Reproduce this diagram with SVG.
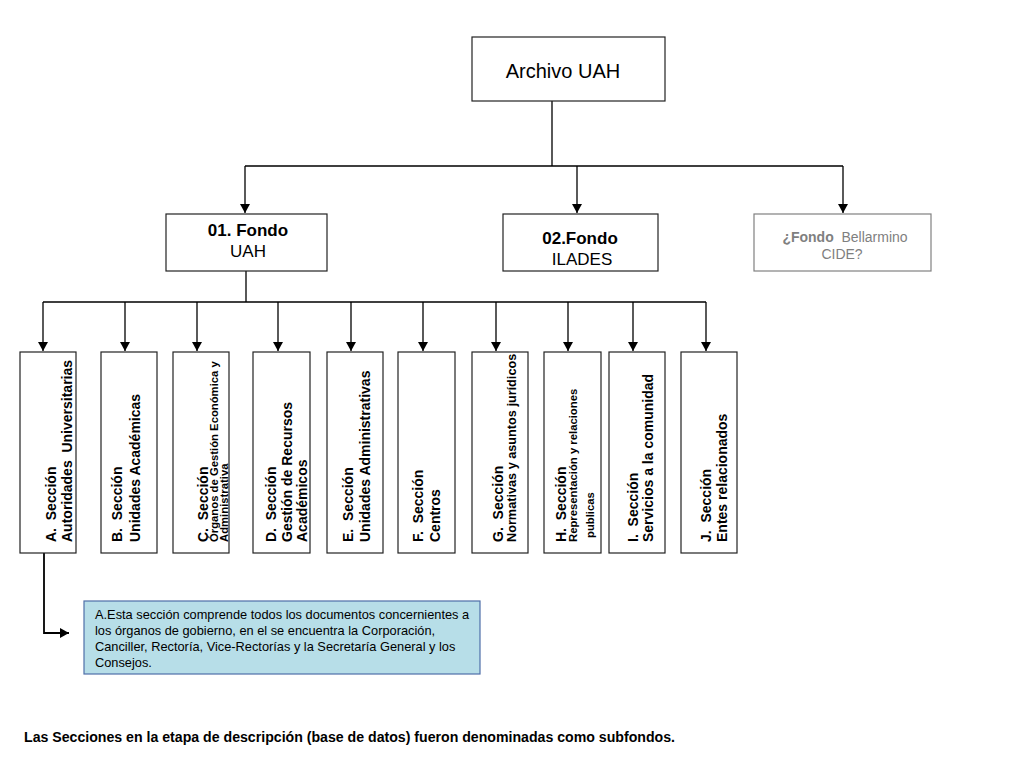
<svg xmlns="http://www.w3.org/2000/svg" width="1024" height="768" viewBox="0 0 1024 768">
<style>
text{font-family:"Liberation Sans",Arial,sans-serif;fill:#000}
.box{fill:#fff;stroke:#222;stroke-width:1.2}
.gbox{fill:#fff;stroke:#808080;stroke-width:1.2}
.note{fill:#b7dee8;stroke:#4f6fa8;stroke-width:1.2}
.ln{fill:none;stroke:#000;stroke-width:1.3}
.sec{font-size:14px;font-weight:bold;white-space:pre}
.sm{font-size:11.3px;font-weight:bold;white-space:pre}
.md{font-size:12.7px;font-weight:bold;white-space:pre}
.f{font-size:17px;text-anchor:middle}
.g{font-size:14px;text-anchor:middle;fill:#7f7f7f}
.nt{font-size:12.8px}
</style>
<defs>
<marker id="ah" markerWidth="9" markerHeight="10" refX="9" refY="5" orient="auto" markerUnits="userSpaceOnUse">
<path d="M0,0 L9,5 L0,10 Z" fill="#000"/>
</marker>
</defs>

<g id="connectors">
<path class="ln" d="M552,101 V166 M245,166 H843"/>
<path class="ln" d="M245,166 V213" marker-end="url(#ah)"/>
<path class="ln" d="M577,166 V213" marker-end="url(#ah)"/>
<path class="ln" d="M843,166 V213" marker-end="url(#ah)"/>
<path class="ln" d="M246,271 V302 M43,302 H706"/>
<path class="ln" d="M43,302 V351" marker-end="url(#ah)"/>
<path class="ln" d="M125,302 V351" marker-end="url(#ah)"/>
<path class="ln" d="M197,302 V351" marker-end="url(#ah)"/>
<path class="ln" d="M278,302 V351" marker-end="url(#ah)"/>
<path class="ln" d="M351,302 V351" marker-end="url(#ah)"/>
<path class="ln" d="M423,302 V351" marker-end="url(#ah)"/>
<path class="ln" d="M496,302 V351" marker-end="url(#ah)"/>
<path class="ln" d="M568,302 V351" marker-end="url(#ah)"/>
<path class="ln" d="M633,302 V351" marker-end="url(#ah)"/>
<path class="ln" d="M706,302 V351" marker-end="url(#ah)"/>
<path class="ln" style="stroke-width:1.8" d="M44,553 V633 H69" marker-end="url(#ah)"/>
</g>

<g id="archivo">
<rect class="box" x="472" y="37" width="193" height="64"/>
<text x="563" y="78" style="font-size:20px;text-anchor:middle">Archivo UAH</text>
</g>

<g id="fondo01">
<rect class="box" x="166" y="214" width="161" height="57"/>
<text class="f" x="248" y="236" font-weight="bold">01. Fondo</text>
<text class="f" x="248" y="257">UAH</text>
</g>

<g id="fondo02">
<rect class="box" x="503" y="214" width="155" height="57"/>
<text class="f" x="580" y="244" font-weight="bold">02.Fondo</text>
<text class="f" x="582" y="265">ILADES</text>
</g>

<g id="fondo03">
<rect class="gbox" x="754" y="214" width="177" height="57"/>
<text class="g" x="845" y="242" style="white-space:pre"><tspan font-weight="bold">¿Fondo</tspan>  Bellarmino</text>
<text class="g" x="842" y="259">CIDE?</text>
</g>

<g id="secA">
<rect class="box" x="20" y="352" width="56" height="201"/>
<text class="sec" transform="translate(56,542) rotate(-90)">A.  Sección</text>
<text class="sec" transform="translate(72,542) rotate(-90)">Autoridades  Universitarias</text>
</g>
<g id="secB">
<rect class="box" x="101" y="352" width="56" height="201"/>
<text class="sec" transform="translate(122,542) rotate(-90)">B.  Sección</text>
<text class="sec" transform="translate(140,542) rotate(-90)">Unidades Académicas</text>
</g>
<g id="secC">
<rect class="box" x="173" y="352" width="56" height="201"/>
<text class="sec" transform="translate(208,542) rotate(-90)">C.  Sección</text>
<text class="sm" transform="translate(218,542) rotate(-90)">Órganos de Gestión Económica y</text>
<text class="sm" transform="translate(228,542) rotate(-90)">Administrativa</text>
</g>
<g id="secD">
<rect class="box" x="253" y="352" width="57" height="201"/>
<text class="sec" transform="translate(276,542) rotate(-90)">D.  Sección</text>
<text class="sec" transform="translate(292,542) rotate(-90)">Gestión de Recursos</text>
<text class="sec" transform="translate(307,542) rotate(-90)">Académicos</text>
</g>
<g id="secE">
<rect class="box" x="327" y="352" width="56" height="201"/>
<text class="sec" transform="translate(353,542) rotate(-90)">E.  Sección</text>
<text class="sec" transform="translate(370,542) rotate(-90)">Unidades Administrativas</text>
</g>
<g id="secF">
<rect class="box" x="398" y="352" width="57" height="201"/>
<text class="sec" transform="translate(423,542) rotate(-90)">F.  Sección</text>
<text class="sec" transform="translate(440,542) rotate(-90)">Centros</text>
</g>
<g id="secG">
<rect class="box" x="472" y="352" width="56" height="201"/>
<text class="sec" transform="translate(503,542) rotate(-90)">G.  Sección</text>
<text class="md" transform="translate(516,542) rotate(-90)">Normativas y asuntos jurídicos</text>
</g>
<g id="secH">
<rect class="box" x="544" y="352" width="57" height="201"/>
<text class="sec" transform="translate(566,542) rotate(-90)">H.  Sección</text>
<text class="sm" transform="translate(577,542) rotate(-90)">Representación y relaciones</text>
<text class="sm" transform="translate(594,538) rotate(-90)">publicas</text>
</g>
<g id="secI">
<rect class="box" x="609" y="352" width="56" height="201"/>
<text class="sec" transform="translate(638,542) rotate(-90)">I.  Sección</text>
<text class="sec" transform="translate(653,542) rotate(-90)">Servicios a la comunidad</text>
</g>
<g id="secJ">
<rect class="box" x="681" y="352" width="56" height="201"/>
<text class="sec" transform="translate(711,542) rotate(-90)">J.  Sección</text>
<text class="sec" transform="translate(727,542) rotate(-90)">Entes relacionados</text>
</g>

<g id="nota">
<rect class="note" x="84" y="601" width="396" height="73"/>
<text class="nt" x="95" y="619">A.Esta sección comprende todos los documentos concernientes a</text>
<text class="nt" x="95" y="635">los órganos de gobierno, en el se encuentra la Corporación,</text>
<text class="nt" x="95" y="651">Canciller, Rectoría, Vice-Rectorías y la Secretaría General y los</text>
<text class="nt" x="95" y="667">Consejos.</text>
</g>

<g id="pie">
<text x="24" y="742" style="font-size:14px;font-weight:bold" textLength="651" lengthAdjust="spacingAndGlyphs">Las Secciones en la etapa de descripción (base de datos) fueron denominadas como subfondos.</text>
</g>
</svg>
